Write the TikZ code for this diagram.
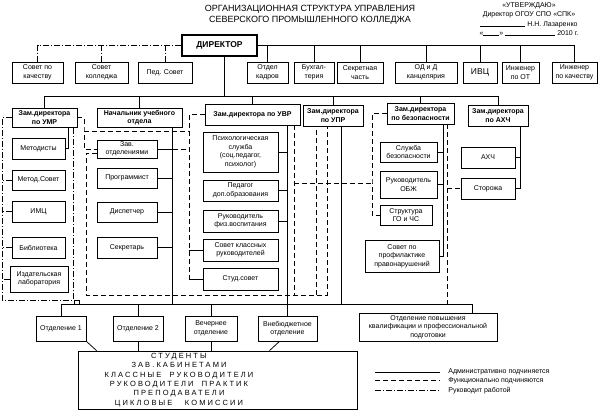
\documentclass[tikz,border=0pt]{standalone}
\usepackage{fontspec}
\setmainfont{Liberation Sans}
\usepackage{tikz}

\begin{document}
\begin{tikzpicture}[x=1pt, y=-1pt, line width=0.75pt,
    box/.style={draw, inner sep=1pt, align=center, font=\fontsize{7}{8.5}\selectfont},
    zam/.style={box, font=\fontsize{7}{8.5}\selectfont\bfseries},
    sz/.style 2 args={minimum width=#1, minimum height=#2},
    dsh/.style={dash pattern=on 5pt off 3pt},
    ddot/.style={dash pattern=on 6pt off 2pt on 1pt off 2pt}]
    \useasboundingbox (0,0) rectangle (600,411);

    \node[align=center, font=\fontsize{9}{11}\selectfont] (title) at (310,15) {ОРГАНИЗАЦИОННАЯ СТРУКТУРА УПРАВЛЕНИЯ\\СЕВЕРСКОГО ПРОМЫШЛЕННОГО КОЛЛЕДЖА};
    \node[align=center, font=\fontsize{7}{9.4}\selectfont] (appr) at (529,19) {«УТВЕРЖДАЮ»\\Директор ОГОУ СПО «СПК»\\\rule{45pt}{0.4pt} Н.Н. Лазаренко\\«\rule{16pt}{0.4pt}» \rule{50pt}{0.4pt} 2010 г.};

    \node[box, sz={75}{21}, line width=1.4pt, font=\fontsize{8.5}{10}\selectfont\bfseries] (dir) at (219.5,45.5) {ДИРЕКТОР};

    \node[box, sz={51}{21}] (sovkach) at (37.5,72.5)  {Совет по\\качеству};
    \node[box, sz={53}{21}] (sovkol)  at (101.5,72.5) {Совет\\колледжа};
    \node[box, sz={54}{21}] (pedsov)  at (165,72.5)   {Пед. Совет};
    \node[box, sz={41}{21}] (kadry)   at (267.5,72.5) {Отдел\\кадров};
    \node[box, sz={40}{21}] (buh)     at (314,72.5)   {Бухгал-\\терия};
    \node[box, sz={46}{21}] (sekr)    at (360,72.5)   {Секретная\\часть};
    \node[box, sz={62}{21}] (odd)     at (426,72.5)   {ОД и Д\\канцелярия};
    \node[box, sz={34}{21}, font=\fontsize{8.5}{10}\selectfont] (ivc) at (480,72.5) {ИВЦ};
    \node[box, sz={37}{21}] (ingot)   at (520.5,72.5) {Инженер\\по ОТ};
    \node[box, sz={45}{21}] (ingkach) at (574.5,72.5) {Инженер\\по качеству};

    \node[zam, sz={65}{19}] (umr)  at (44.5,117.5)  {Зам.директора\\по УМР};
    \node[zam, sz={85}{19}] (nach) at (139.5,117.5) {Начальник учебного\\отдела};
    \node[zam, sz={95}{21}] (uvr)  at (252.5,114.5) {Зам.директора по УВР};
    \node[zam, sz={60}{21}] (upr)  at (333,115.5)   {Зам.директора\\по УПР};
    \node[zam, sz={67}{21}] (bez)  at (420.5,113.5) {Зам.директора\\по безопасности};
    \node[zam, sz={60}{21}] (ahch) at (498,115.5)   {Зам.директора\\по АХЧ};

    \node[box, sz={53}{21}] (metod)  at (38.5,148.5) {Методисты};
    \node[box, sz={53}{20}] (metsov) at (38.5,180)   {Метод.Совет};
    \node[box, sz={53}{21}] (imc)    at (38.5,211.5) {ИМЦ};
    \node[box, sz={53}{21}] (bibl)   at (38.5,247.5) {Библиотека};
    \node[box, sz={58}{26}] (izd)    at (39,279)     {Издательская\\лаборатория};

    \node[box, sz={60}{18}] (zavotd) at (127,149)   {Зав.\\отделениями};
    \node[box, sz={60}{20}] (prog)   at (127,178)   {Программист};
    \node[box, sz={60}{20}] (disp)   at (127,212)   {Диспетчер};
    \node[box, sz={60}{21}] (sekret) at (127,247.5) {Секретарь};

    \node[box, sz={75}{40}] (psych) at (240.5,152)   {Психологическая\\служба\\(соц.педагог,\\психолог)};
    \node[box, sz={75}{21}] (pedag) at (240.5,190.5) {Педагог\\доп.образования};
    \node[box, sz={75}{22}] (fizv)  at (240.5,221)   {Руководитель\\физ.воспитания};
    \node[box, sz={75}{22}] (sovkl) at (240.5,250)   {Совет классных\\руководителей};
    \node[box, sz={75}{22}] (stud)  at (240.5,279)   {Студ.совет};

    \node[box, sz={57}{20}] (slbez)  at (408.5,152)   {Служба\\безопасности};
    \node[box, sz={57}{27}] (obzh)   at (408.5,184.5) {Руководитель\\ОБЖ};
    \node[box, sz={52}{20}] (gochs)  at (406,215)     {Структура\\ГО и ЧС};
    \node[box, sz={74}{32}] (profil) at (402,256)     {Совет по\\профилактике\\правонарушений};

    \node[box, sz={54}{21}] (ahchb)   at (488,157.5) {АХЧ};
    \node[box, sz={54}{21}] (storozh) at (488,188.5) {Сторожа};

    \node[box, sz={50}{25}]  (otd1)   at (61,328.5)  {Отделение 1};
    \node[box, sz={50}{25}]  (otd2)   at (138,328.5) {Отделение 2};
    \node[box, sz={52}{25}]  (vech)   at (211,328.5) {Вечернее\\отделение};
    \node[box, sz={59}{25}]  (vneb)   at (287.5,328.5) {Внебюджетное\\отделение};
    \node[box, sz={138}{28}] (povysh) at (428,327)   {Отделение повышения\\квалификации и профессиональной\\подготовки};

    \node[draw, sz={279}{58}] (studbox) at (217.5,380) {};
    \node[align=center, font=\fontsize{7.5}{9.4}\selectfont\addfontfeature{LetterSpace=28}] (studtxt) at (179,380)
        {СТУДЕНТЫ\\ЗАВ.КАБИНЕТАМИ\\КЛАССНЫЕ\ \ РУКОВОДИТЕЛИ\\РУКОВОДИТЕЛИ\ \ ПРАКТИК\\ПРЕПОДАВАТЕЛИ\\ЦИКЛОВЫЕ\ \ \ КОМИССИИ};
    \node[draw, minimum width=5, minimum height=4, inner sep=0pt] (sq) at (76.5,302) {};

    \coordinate (busA) at (224,96);
    \coordinate (pv)   at (472,304);
    \coordinate (nx)   at (172,304);
    \coordinate (wx)   at (287,304);
    \coordinate (px)   at (341,304);
    \coordinate (bd)   at (447,304);
    \coordinate (bx)   at (443,256);
    \coordinate (ax)   at (520,188.5);
    \coordinate (umrL) at (2,300);
    \coordinate (umrR) at (73,300);
    \coordinate (ux)   at (84,131);
    \coordinate (vx)   at (189,115);
    \coordinate (fb)   at (86,295);
    \coordinate (fr)   at (327,295);
    \coordinate (fr2)  at (316,295);
    \coordinate (uv)   at (294,183);
    \coordinate (gx)   at (372,183);

    % director
    \draw (dir.east) -- (ingkach.north |- dir.east);
    \foreach \b in {kadry,buh,sekr,odd,ivc,ingot,ingkach}
        \draw (\b.north) -- (\b.north |- dir.east);
    \draw[ddot] (dir.west) -| (sovkach.north);
    \foreach \b in {sovkol,pedsov}
        \draw[ddot] (\b.north) -- (\b.north |- dir.west);
    \draw (busA |- dir.south) -- (busA);
    \draw (umr.north |- busA) -- (ahch.north |- busA);
    \foreach \b in {umr,nach,uvr,upr,bez,ahch}
        \draw (\b.north) -- (\b.north |- busA);

    % zam
    \draw ([xshift=3pt]metod.east |- umr.south) |- (metod.east);
    \draw[ddot] (umr.west) -| (umrL) -- (umrR) -- (umrR |- umr.south);
    \foreach \b in {metsov,imc,bibl,izd}
        \draw[ddot] (\b.west) -- (\b.west -| umrL);
    \draw[dsh] (umr.east) -| (ux) |- (zavotd.west);
    \draw[dsh] (ux) -- (ux -| vx);
    \draw[dsh] (uvr.west) -| (vx |- stud.west);
    \draw[dsh] (zavotd.east) -- (zavotd.east -| vx);
    \draw (vx |- sovkl.west) -- (sovkl.west);
    \draw (vx |- stud.west) -- (stud.west);
    \draw[dsh] ([yshift=-4pt]zavotd.west) -| (fb) -- (fr) -- (fr |- upr.south);
    \draw[dsh] (fr2) -- (fr2 |- upr.south);
    \draw[dsh] (uv |- uvr.south) -- (uv |- fb);
    \draw[dsh] (uv) -- (gx);
    \draw[dsh] (bez.west) -| (gx) |- (gochs.west);

    \draw (nx |- nach.south) -- (nx);
    \foreach \b in {zavotd,prog,disp,sekret}
        \draw (\b.east) -- (\b.east -| nx);
    \draw (wx |- uvr.south) -- (wx);
    \foreach \b in {psych,pedag,fizv}
        \draw (\b.east) -- (\b.east -| wx);
    \draw (px |- upr.south) -- (px);
    \draw (bx |- bez.south) |- (profil.east);
    \foreach \b in {slbez,obzh}
        \draw (\b.east) -- (\b.east -| bx);
    \draw[dsh] (bd |- bez.south) -- (bd);
    \draw[dsh] (bd |- storozh.west) -- (storozh.west);
    \draw (ax |- ahch.south) |- (storozh.east);
    \draw (ahchb.east) -- (ahchb.east -| ax);

    % departments
    \draw (otd1.north |- pv) -- (pv) -- (pv |- povysh.north);
    \foreach \b in {otd1,otd2,vech,vneb}
        \draw (\b.north) -- (\b.north |- pv);
    \draw (otd1.south east) -- ([xshift=19pt]studbox.north west);
    \draw (otd2.south) -- (otd2.south |- studbox.north);
    \draw (vech.south) -- (vech.south |- studbox.north);
    \draw ([xshift=-8pt]vneb.south) -- ([xshift=-18pt]vneb.south |- studbox.north);

    % legend
    \coordinate (lg1) at (375,372);
    \coordinate (lg2) at (375,381);
    \coordinate (lg3) at (375,391);
    \node[anchor=west, inner sep=0pt, font=\fontsize{7}{8}\selectfont] (lt1) at (448,372) {Административно подчиняется};
    \node[anchor=west, inner sep=0pt, font=\fontsize{7}{8}\selectfont] (lt2) at (448,381) {Функционально подчиняются};
    \node[anchor=west, inner sep=0pt, font=\fontsize{7}{8}\selectfont] (lt3) at (448,391) {Руководит работой};
    \draw (lg1) -- (lg1 -| 440,0);
    \draw[dsh, line width=1pt] (lg2) -- (lg2 -| 440,0);
    \draw[ddot, line width=1pt] (lg3) -- (lg3 -| 440,0);
\end{tikzpicture}
\end{document}
